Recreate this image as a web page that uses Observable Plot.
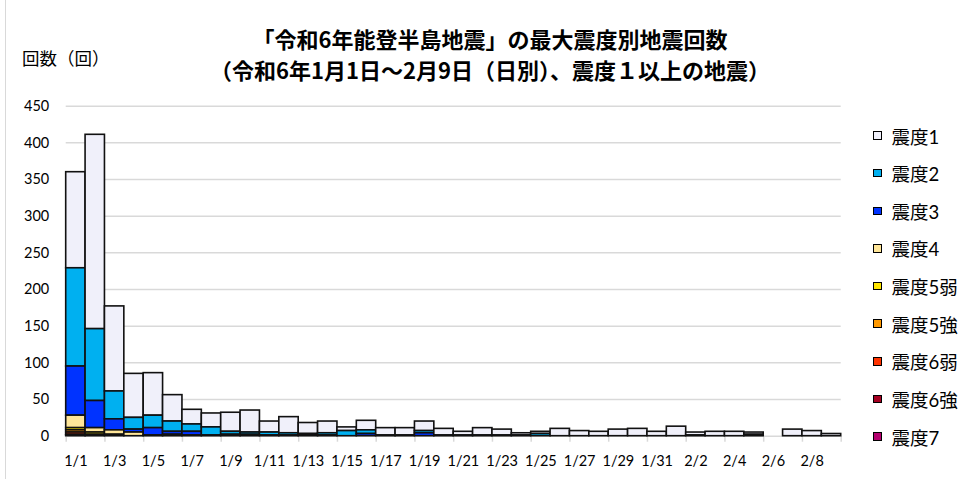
<!DOCTYPE html>
<html lang="ja">
<head>
<meta charset="utf-8">
<script src="https://cdn.jsdelivr.net/npm/d3@7"></script>
<script src="https://cdn.jsdelivr.net/npm/@observablehq/plot@0.6"></script>
<style>
  body { margin: 0; background: #fff; }
  #wrap { position: relative; width: 978px; height: 479px; overflow: hidden; font-family: Lato, "Noto Sans CJK JP", sans-serif; }
  #edge { position: absolute; left: 5px; top: 0; width: 1px; height: 479px; background: #d9d9d9; }
  .title { position: absolute; left: 0; width: 980px; text-align: center; font-family: "Noto Sans CJK JP", sans-serif; font-weight: bold; font-size: 22px; line-height: 30px; color: #000; }
  #ylab { position: absolute; left: 22px; top: 46px; font-family: "Noto Sans CJK JP", sans-serif; font-size: 17.5px; line-height: 24px; }
  #chart { position: absolute; left: 0; top: 0; }
  #legend { position: absolute; left: 873px; top: 116.7px; }
  .row { display: flex; align-items: center; height: 37.65px; font-size: 18.5px; font-family: Lato, "Noto Sans CJK JP", sans-serif; }
  .sw { width: 6.5px; height: 6.5px; border: 1.5px solid #000; margin-right: 10px; }
</style>
</head>
<body>
<div id="wrap">
  <div id="edge"></div>
  <div class="title" style="top:23px">「令和6年能登半島地震」の最大震度別地震回数</div>
  <div class="title" style="top:54px">（令和6年1月1日～2月9日（日別）、震度１以上の地震）</div>
  <div id="ylab">回数（回）</div>
  <div id="chart"></div>
  <div id="legend"></div>
</div>
<script>
// days 1/1 .. 2/9
const dates = ["1/1","1/2","1/3","1/4","1/5","1/6","1/7","1/8","1/9","1/10",
  "1/11","1/12","1/13","1/14","1/15","1/16","1/17","1/18","1/19","1/20",
  "1/21","1/22","1/23","1/24","1/25","1/26","1/27","1/28","1/29","1/30",
  "1/31","2/1","2/2","2/3","2/4","2/5","2/6","2/7","2/8","2/9"];

const levels = ["震度1","震度2","震度3","震度4","震度5弱","震度5強","震度6弱","震度6強","震度7"];
const colors = ["#f0f0fa","#00b0f0","#0033ff","#ffe699","#ffe600","#ff9900","#ff3300","#a50021","#b4006e"];

// counts per day
const s1  = [131,265,116,60,58,36,20,19,26,30, 15,22,15,16,5,13,10,10,13,9, 5,10,8,3,3,10,7,6,9,10, 6,13,4,6,6,3,0,9,7,3];
const s2  = [134,98,38,16,17,14,10,11,4,3, 4,3,2,3,7,5,1,1,3,1, 1,1,1,1,3,0,0,0,0,0, 0,0,1,0,0,2,0,0,0,0];
const s3  = [67,37,15,4,10,4,5,1,2,2, 1,1,1,1,0,3,0,0,4,0, 0,0,0,0,0,0,0,0,0,0, 0,0,0,0,0,0,0,0,0,0];
const s4  = [17,6,6,5,1,2,1,0,0,0, 0,0,0,0,0,0,0,0,0,0, 0,0,0,0,0,0,0,0,0,0, 0,0,0,0,0,0,0,0,0,0];
const s5l = [3,3,0,0,0,0,0,0,0,0, 0,0,0,0,0,0,0,0,0,0, 0,0,0,0,0,0,0,0,0,0, 0,0,0,0,0,0,0,0,0,0];
const s5u = [3,1,2,0,0,0,0,0,0,0, 0,0,0,0,0,0,0,0,0,0, 0,0,0,0,0,0,0,0,0,0, 0,0,0,0,0,0,0,0,0,0];
const s6l = [3,1,0,0,0,0,0,0,0,0, 0,0,0,0,0,0,0,0,0,0, 0,0,0,0,0,0,0,0,0,0, 0,0,0,0,0,0,0,0,0,0];
const s6u = [1,0,0,0,0,0,0,0,0,0, 0,0,0,0,0,0,0,0,0,0, 0,0,0,0,0,0,0,0,0,0, 0,0,0,0,0,0,0,0,0,0];
const s7  = [1,0,0,0,0,0,0,0,0,0, 0,0,0,0,0,0,0,0,0,0, 0,0,0,0,0,0,0,0,0,0, 0,0,0,0,0,0,0,0,0,0];

const yTicks = [0,50,100,150,200,250,300,350,400,450];

const series = [s1,s2,s3,s4,s5l,s5u,s6l,s6u,s7];
let rows = [];
dates.forEach((d, i) => {
  levels.forEach((lv, k) => {
    const v = series[k][i];
    if (v > 0) rows.push({i: i, date: d, level: lv, count: v});
  });
});

const evenIdx = dates.map((d, i) => i).filter(i => i % 2 == 0);

let chart = Plot.plot({
  width: 860,
  height: 479,
  marginLeft: 65.7,
  marginRight: 19.3,
  marginTop: 105.7,
  marginBottom: 43.3,
  style: { fontFamily: "Lato, 'Noto Sans CJK JP', sans-serif", fontSize: "14.5px", color: "#000", background: "transparent" },
  x: { domain: [0, dates.length], label: null },
  y: { domain: [0, 450], label: null },
  color: { domain: levels, range: colors },
  marks: [
    Plot.ruleY(yTicks, { stroke: "#d9d9d9", strokeWidth: 1.5 }),
    Plot.axisY({ ticks: yTicks, tickSize: 0, tickPadding: 17, label: null }),
    Plot.axisX({ ticks: [...evenIdx, dates.length], tickSize: 6, tickFormat: () => "", stroke: "#d9d9d9", strokeWidth: 1.5, label: null }),
    Plot.axisX({ ticks: evenIdx.map(i => i + 0.5), tickSize: 0, tickPadding: 20, tickFormat: v => dates[Math.round(v - 0.5)], label: null }),
    Plot.rectY(rows, {
      x1: "i",
      x2: d => d.i + 1,
      y: "count",
      z: "level",
      order: [...levels].reverse(),
      fill: "level",
      stroke: "#111",
      strokeWidth: 1.6
    })
  ]
});
d3.select("#chart").append(() => chart);

// legend on the right
const lg = d3.select("#legend");
levels.forEach((lv, k) => {
  const r = lg.append("div").attr("class", "row");
  r.append("div").attr("class", "sw").style("background", colors[k]);
  r.append("span").text(lv);
});
</script>
</body>
</html>
